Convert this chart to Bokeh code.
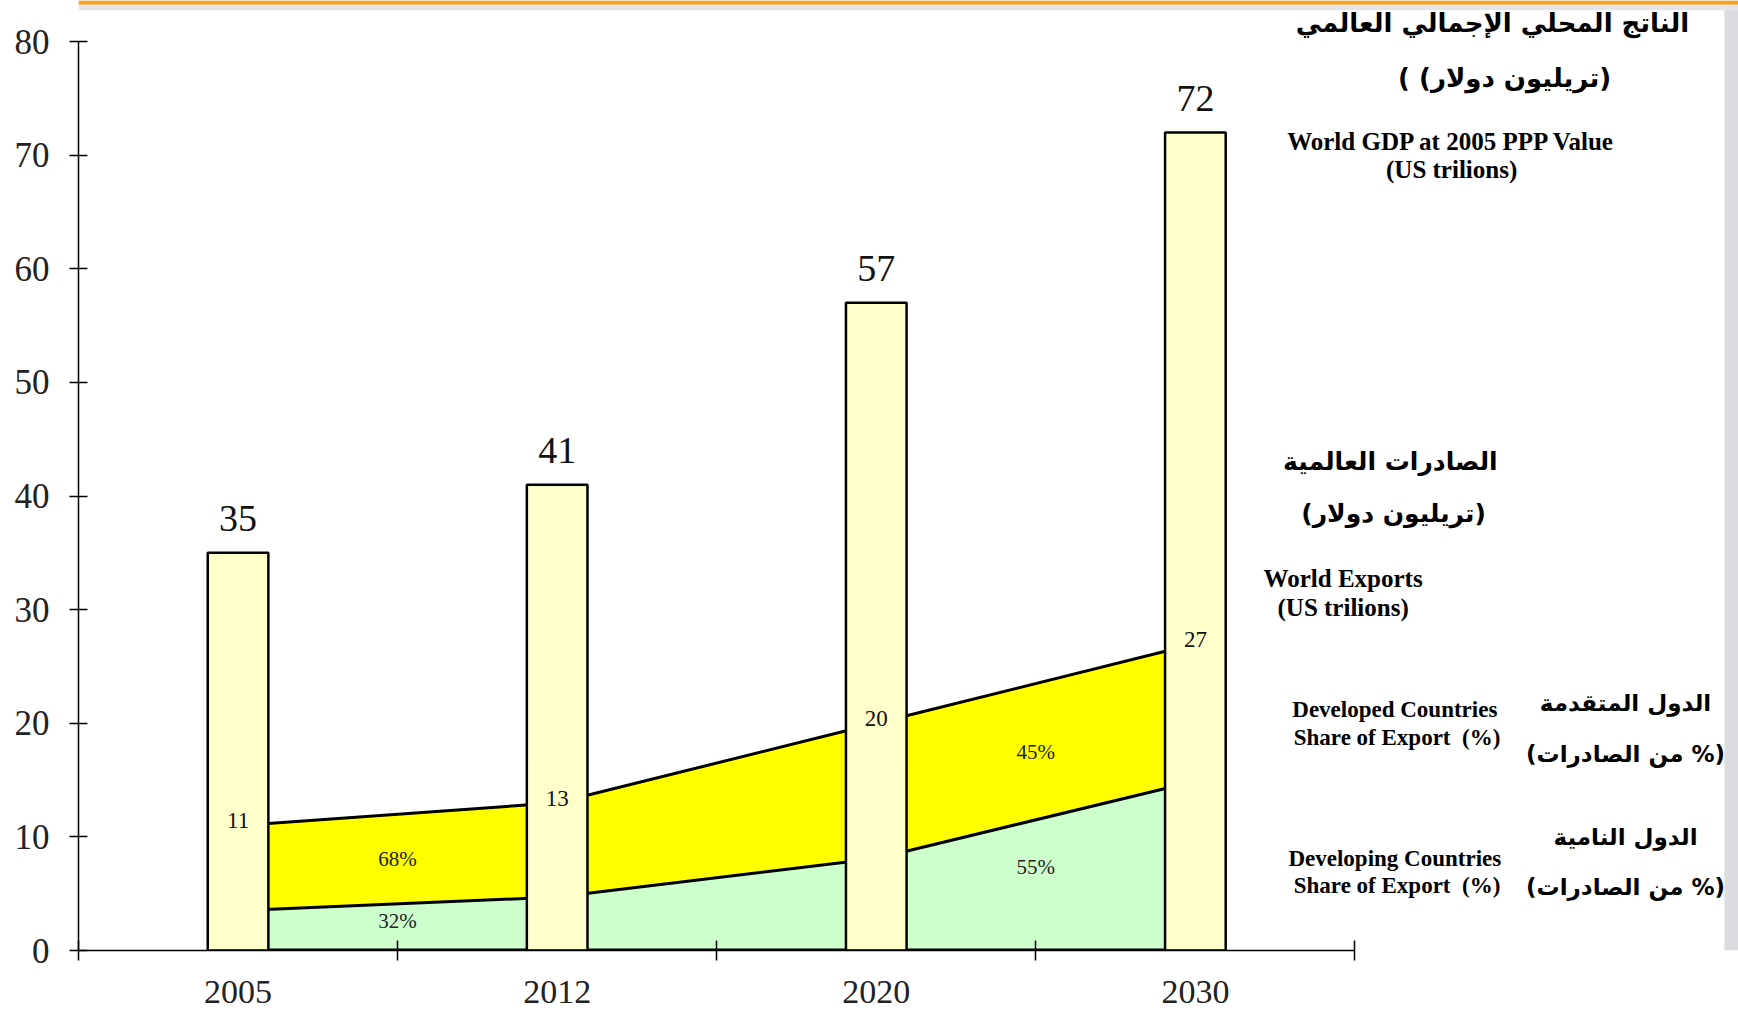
from bokeh.plotting import figure
from bokeh.models import Range1d, FixedTicker, Label, ColumnDataSource, BoxAnnotation
from bokeh.core.properties import value
from bokeh.embed import file_html
from bokeh.resources import INLINE

# ---------------- data ----------------
years = ["2005", "2012", "2020", "2030"]
world_gdp = [35, 41, 57, 72]            # US trillions
world_exports = [11, 13, 20, 27]        # US trillions
developing_exports = [3.5, 4.7, 8.1, 14.9]
share_labels_developed = ["68%", "45%"]
share_labels_developing = ["32%", "55%"]
share_label_segments = [0, 2]           # segment index (between category i and i+1)
y_ticks = [0, 10, 20, 30, 40, 50, 60, 70, 80]

SERIF = "Liberation Serif"
ARABIC = "DejaVu Sans"
NB = "\u00a0"

W, H = 1738, 1009
FRAME_L = 78
FRAME_B = 59
x_end = 5.202
y_end = 83.61

p = figure(width=W, height=H, output_backend="svg", toolbar_location=None,
           x_range=Range1d(0, x_end), y_range=Range1d(0, y_end),
           min_border_left=FRAME_L, min_border_right=0, min_border_top=0,
           min_border_bottom=FRAME_B, background_fill_color="white",
           border_fill_color="white")
p.outline_line_color = None
p.grid.visible = False

# decorative page bands
p.add_layout(BoxAnnotation(left=5.158, fill_color="#dcdce0", fill_alpha=1.0,
                           line_color=None, level="underlay"))
p.add_layout(BoxAnnotation(bottom=82.75, fill_color="#e4e4e8", fill_alpha=1.0,
                           line_color=None, level="underlay"))
p.add_layout(BoxAnnotation(bottom=83.26, fill_color="#F7A21B", fill_alpha=1.0,
                           line_color=None, level="underlay"))

xs = [i + 0.5 for i in range(len(years))]

# stacked areas (drawn behind bars)
p.varea(x=xs, y1=[0] * len(xs), y2=developing_exports, fill_color="#CCFFCC")
p.varea(x=xs, y1=developing_exports, y2=world_exports, fill_color="#FFFF00")
p.line(xs, world_exports, line_color="black", line_width=3)
p.line(xs, developing_exports, line_color="black", line_width=3)
p.line([xs[0], xs[-1]], [0, 0], line_color="black", line_width=4)

# GDP bars
src = ColumnDataSource(dict(x=xs, top=world_gdp, lab=[str(v) for v in world_gdp],
                            ly=[v + 3.0 for v in world_gdp],
                            ex=[str(v) for v in world_exports],
                            ey=[v + 0.4 for v in world_exports]))
p.vbar(x="x", top="top", bottom=0, width=0.19, source=src,
       fill_color="#FFFFCC", line_color="black", line_width=2.5)
p.text(x="x", y="ly", text="lab", source=src, text_align="center",
       text_baseline="middle", text_font=value(SERIF),
       text_font_size="38px", text_color="#111111")
p.text(x="x", y="ey", text="ex", source=src, text_align="center",
       text_baseline="middle", text_font=value(SERIF),
       text_font_size="23px", text_color="#111111")

# share labels
for k, seg in enumerate(share_label_segments):
    xm = (xs[seg] + xs[seg + 1]) / 2
    tm = (world_exports[seg] + world_exports[seg + 1]) / 2
    dm = (developing_exports[seg] + developing_exports[seg + 1]) / 2
    p.add_layout(Label(x=xm, y=(tm + dm) / 2, text=share_labels_developed[k],
                       text_align="center", text_baseline="middle",
                       text_font=SERIF, text_font_size="21px", text_color="#222222"))
    p.add_layout(Label(x=xm, y=dm * 0.64, text=share_labels_developing[k],
                       text_align="center", text_baseline="middle",
                       text_font=SERIF, text_font_size="21px", text_color="#222222"))

# axes
p.yaxis.ticker = FixedTicker(ticks=y_ticks)
p.yaxis.bounds = (0, 80)
p.yaxis.axis_line_width = 1.5
p.yaxis.major_tick_in = 9
p.yaxis.major_tick_out = 9
p.yaxis.major_tick_line_width = 1.5
p.yaxis.minor_tick_line_color = None
p.yaxis.major_label_standoff = 20
p.yaxis.major_label_text_font = SERIF
p.yaxis.major_label_text_font_size = "35px"
p.yaxis.major_label_text_color = "#222222"

p.xaxis.ticker = FixedTicker(ticks=xs, minor_ticks=list(range(len(years) + 1)))
p.xaxis.major_label_overrides = {x: y for x, y in zip(xs, years)}
p.xaxis.bounds = (0, len(years))
p.xaxis.axis_line_width = 1.5
p.xaxis.major_tick_in = 0
p.xaxis.major_tick_out = 0
p.xaxis.minor_tick_in = 10
p.xaxis.minor_tick_out = 10
p.xaxis.minor_tick_line_color = "black"
p.xaxis.minor_tick_line_width = 1.5
p.xaxis.major_label_standoff = 20
p.xaxis.major_label_text_font = SERIF
p.xaxis.major_label_text_font_size = "34px"
p.xaxis.major_label_text_color = "#222222"

# right-hand annotations (Arabic strings are written so that the page's
# right-to-left text run shows the parentheses where the reference has them)
notes = [
    ("الناتج المحلي الإجمالي العالمي", 4.431, 81.65, ARABIC, "26px"),
    ("( (تريليون دولار)", 4.469, 76.78, ARABIC, "26px"),
    ("World GDP at 2005 PPP Value", 4.303, 71.22, SERIF, "25px"),
    ("(US trilions)", 4.303, 68.70, SERIF, "25px"),
    ("الصادرات العالمية", 4.111, 43.04, ARABIC, "25px"),
    ("(تريليون دولار)", 4.121, 38.46, ARABIC, "25px"),
    ("World Exports", 3.963, 32.78, SERIF, "25px"),
    ("(US trilions)", 3.963, 30.15, SERIF, "25px"),
    ("Developed Countries", 4.125, 21.17, SERIF, "23px"),
    ("Share of Export" + NB + NB + "(%)", 4.132, 18.74, SERIF, "23px"),
    ("الدول المتقدمة", 4.848, 21.76, ARABIC, "23px"),
    ("(من الصادرات %)", 4.848, 17.28, ARABIC, "23px"),
    ("Developing Countries", 4.125, 8.10, SERIF, "23px"),
    ("Share of Export" + NB + NB + "(%)", 4.132, 5.76, SERIF, "23px"),
    ("الدول النامية", 4.848, 9.96, ARABIC, "23px"),
    ("(من الصادرات %)", 4.848, 5.57, ARABIC, "23px"),
]
for txt, x, y, font, size in notes:
    p.add_layout(Label(x=x, y=y, text=txt, text_align="center", text_baseline="middle",
                       text_font=font, text_font_size=size, text_font_style="bold",
                       text_color="black"))

open("out.html", "w").write(file_html(p, INLINE))
